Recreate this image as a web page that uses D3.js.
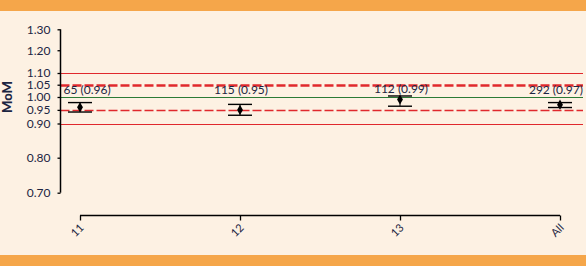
<!DOCTYPE html>
<html>
<head>
<meta charset="utf-8">
<script src="https://cdn.jsdelivr.net/npm/d3@7"></script>
<style>
  html, body { margin: 0; padding: 0; background: #fdf1e3; }
  svg { display: block; }
  text { font-family: Lato, "Open Sans", sans-serif; fill: #1c2542; }
</style>
</head>
<body>
<div id="chart"></div>
<script>
// categories and values
var categories = ["11", "12", "13", "All"];
var counts = [65, 115, 112, 292];
var mom = [0.96, 0.95, 0.99, 0.97];
var ciLow = [0.942, 0.930, 0.964, 0.959];
var ciHigh = [0.978, 0.971, 1.004, 0.978];

var yTicks = [0.70, 0.80, 0.90, 0.95, 1.00, 1.05, 1.10, 1.20, 1.30];
// reference lines: value, colour, width, dash
var refLines = [
  { v: 1.10, color: "#e0282d", w: 1.2, dash: null },
  { v: 1.05, color: "#e0282d", w: 2.6, dash: "9,3" },
  { v: 1.00, color: "#2b7a35", w: 1.2, dash: null },
  { v: 0.95, color: "#e0282d", w: 1.5, dash: "9,3" },
  { v: 0.90, color: "#e0282d", w: 1.2, dash: null }
];

var width = 586, height = 266;

var svg = d3.select("#chart").append("svg")
  .attr("width", width)
  .attr("height", height);

// page band top & bottom
svg.append("rect").attr("x", 0).attr("y", 0).attr("width", width).attr("height", 11).attr("fill", "#f5a64a");
svg.append("rect").attr("x", 0).attr("y", 255).attr("width", width).attr("height", 11).attr("fill", "#f5a64a");

var axisX = 60.5, plotRight = 583;
var y = d3.scaleLog()
  .domain([0.7, 0.8, 0.9, 1.1, 1.3])
  .range([192.7, 157.7, 123.5, 73, 29.3]);

var x = d3.scalePoint()
  .domain(categories)
  .range([80, 560]);

// reference lines
svg.append("g").selectAll("line")
  .data(refLines)
  .enter().append("line")
  .attr("x1", axisX)
  .attr("x2", plotRight)
  .attr("y1", d => Math.round(y(d.v)) + 0.5)
  .attr("y2", d => Math.round(y(d.v)) + 0.5)
  .attr("stroke", d => d.color)
  .attr("stroke-width", d => d.w)
  .attr("stroke-dasharray", d => d.dash);

// y axis
var yAxis = d3.axisLeft(y)
  .tickValues(yTicks)
  .tickFormat(d3.format(".2f"))
  .tickSize(3)
  .tickPadding(7);

var gy = svg.append("g")
  .attr("transform", "translate(" + axisX + ",0)")
  .call(yAxis);
gy.select(".domain").attr("d", "M0," + y(1.3) + "V" + y(0.7)).attr("stroke", "#000").attr("stroke-width", 1.5);
gy.selectAll(".tick line").attr("stroke", "#000").attr("stroke-width", 1.3);
gy.selectAll(".tick text").style("font-size", "12px").attr("fill", "#1c2542");

svg.append("text")
  .attr("transform", "translate(12,97) rotate(-90)")
  .attr("text-anchor", "middle")
  .style("font-size", "13px")
  .style("font-weight", "900")
  .text("MoM");

// x axis
var xAxis = d3.axisBottom(x).tickSize(5).tickSizeOuter(0);
var gx = svg.append("g")
  .attr("transform", "translate(0,215.5)")
  .call(xAxis);
gx.select(".domain").attr("d", "M" + x("11") + ",0H" + x("All")).attr("stroke", "#000").attr("stroke-width", 1.5);
gx.selectAll(".tick line").attr("stroke", "#000").attr("stroke-width", 1.3);
gx.selectAll(".tick text")
  .style("font-size", "11px")
  .attr("fill", "#1c2542")
  .attr("text-anchor", "end")
  .attr("dy", null)
  .attr("y", null)
  .attr("transform", "translate(4,13) rotate(-45)");

// error bars
var rows = categories.map((c, i) => ({ cat: c, n: counts[i], m: mom[i], lo: ciLow[i], hi: ciHigh[i] }));

var g = svg.append("g");
var capW = 12;

g.selectAll(".stem").data(rows).enter().append("line")
  .attr("x1", d => x(d.cat)).attr("x2", d => x(d.cat))
  .attr("y1", d => y(d.hi)).attr("y2", d => y(d.lo))
  .attr("stroke", "#000").attr("stroke-width", 1);

g.selectAll(".capHi").data(rows).enter().append("line")
  .attr("x1", d => x(d.cat) - capW).attr("x2", d => x(d.cat) + capW)
  .attr("y1", d => y(d.hi)).attr("y2", d => y(d.hi))
  .attr("stroke", "#000").attr("stroke-width", 1.4);

g.selectAll(".capLo").data(rows).enter().append("line")
  .attr("x1", d => x(d.cat) - capW).attr("x2", d => x(d.cat) + capW)
  .attr("y1", d => y(d.lo)).attr("y2", d => y(d.lo))
  .attr("stroke", "#000").attr("stroke-width", 1.4);

g.selectAll(".pt").data(rows).enter().append("path")
  .attr("d", d3.symbol().type(d3.symbolDiamond).size(30))
  .attr("transform", d => "translate(" + x(d.cat) + "," + y(d.m) + ")")
  .attr("fill", "#000");

g.selectAll(".lbl").data(rows).enter().append("text")
  .attr("x", d => x(d.cat) + 1)
  .attr("y", d => y(Math.max(d.hi, 1.0)) - 3)
  .attr("text-anchor", "middle")
  .style("font-size", "12px")
  .text(d => d.n + " (" + d3.format(".2f")(d.m) + ")")
  .each(function () {
    // keep the first label clear of the y axis
    var b = this.getBBox();
    if (b.x < axisX + 3) d3.select(this).attr("x", +d3.select(this).attr("x") + (axisX + 3 - b.x));
    if (b.x + b.width > plotRight) d3.select(this).attr("x", +d3.select(this).attr("x") - (b.x + b.width - plotRight));
  });
</script>
</body>
</html>
